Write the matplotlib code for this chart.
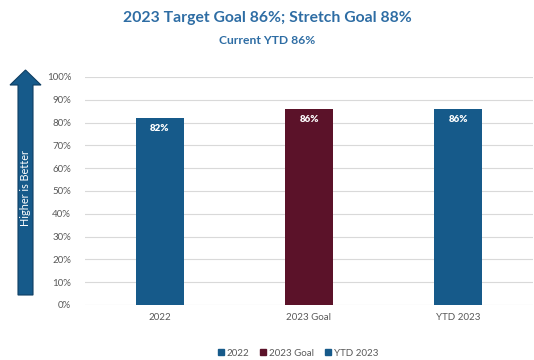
import matplotlib
matplotlib.use("Agg")
import matplotlib.pyplot as plt
from matplotlib.patches import Polygon, Patch

plt.rcParams['font.family'] = ['Lato', 'DejaVu Sans']

categorias = ['2022', '2023 Goal', 'YTD 2023']
valores = [82, 86, 86]
cores = ['#165A8A', '#5B1229', '#165A8A']
rotulos = ['82%', '86%', '86%']

W, H = 534, 360
fig = plt.figure(figsize=(W / 100, H / 100), dpi=100)
ax = fig.add_axes([85 / W, 1 - 305 / H, 448 / W, 228 / H])

x = range(len(categorias))
barras = ax.bar(x, valores, width=0.32, color=cores, zorder=3)
for b, r in zip(barras, rotulos):
    ax.text(b.get_x() + b.get_width() / 2, b.get_height() - 4.8, r,
            ha='center', va='center', color='white', fontsize=7, fontweight='heavy', zorder=4)

ax.set_xlim(-0.5, 2.5)
ax.set_ylim(0, 100)
ax.set_yticks(range(0, 101, 10))
ax.set_yticklabels([f'{v}%' for v in range(0, 101, 10)])
ax.set_xticks(list(x))
ax.set_xticklabels(categorias)
ax.yaxis.grid(True, color='#D9D9D9', linewidth=0.8, zorder=0)
for s in ax.spines.values():
    s.set_visible(False)
ax.tick_params(axis='both', length=0, labelsize=7, colors='#595959')
ax.tick_params(axis='y', pad=10)
ax.tick_params(axis='x', pad=6)

# titulo
fig.text(0.5, 1 - 18 / H, '2023 Target Goal 86%; Stretch Goal 88%', ha='center', va='center',
         fontsize=11.3, fontweight='bold', color='#2E6DA4')
fig.text(0.5, 1 - 41 / H, 'Current YTD 86%', ha='center', va='center',
         fontsize=8.7, fontweight='bold', color='#2E6DA4')

# seta "Higher is Better"
pts = [(18, 295), (33, 295), (33, 85), (41, 85), (25.5, 70), (10, 85), (18, 85)]
seta = Polygon([(px / W, 1 - py / H) for px, py in pts], closed=True,
               transform=fig.transFigure, facecolor='#165A8A', edgecolor='#0F3F63', linewidth=0.8)
fig.add_artist(seta)
fig.text(25.5 / W, 1 - 188 / H, 'Higher is Better', rotation=90, ha='center', va='center',
         color='white', fontsize=7.8)

# legenda
handles = [Patch(color=c, label=l) for c, l in zip(cores, categorias)]
fig.legend(handles=handles, loc='center', bbox_to_anchor=(298 / W, 1 - 353 / H), ncol=3,
           frameon=False, fontsize=7, handlelength=0.6, handleheight=0.6, handletextpad=0.3,
           columnspacing=1.1, labelcolor='#595959')

fig.savefig('out.png', dpi=100)
